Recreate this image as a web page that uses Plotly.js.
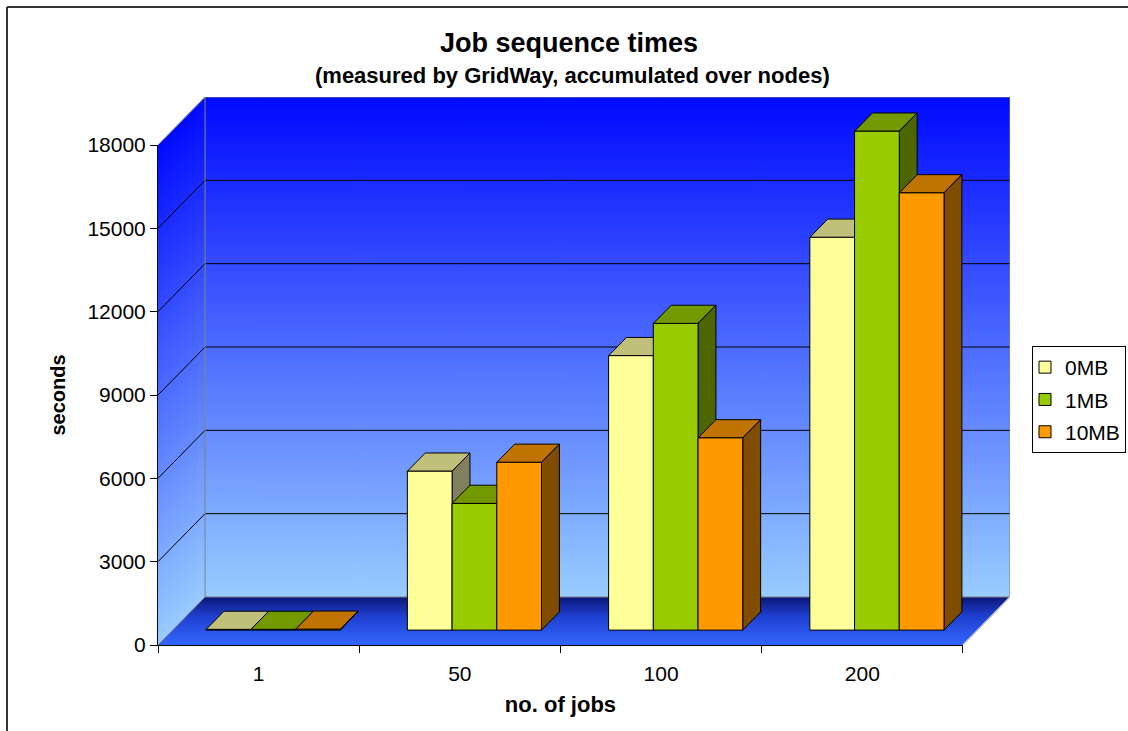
<!DOCTYPE html>
<html>
<head>
<meta charset="utf-8">
<script src="https://cdn.plot.ly/plotly-3.0.1.min.js"></script>
<style>
  html, body { margin: 0; padding: 0; background: #ffffff; }
  #chart { width: 1128px; height: 731px; }
</style>
</head>
<body>
<div id="chart"></div>
<script>
// ---- data ----
const categories = ['1', '50', '100', '200'];
const seriesNames = ['0MB', '1MB', '10MB'];
const values0MB = [25, 5720, 9880, 14140];
const values1MB = [25, 4560, 11040, 17960];
const values10MB = [30, 6040, 6920, 15740];
const yTicks = [0, 3000, 6000, 9000, 12000, 15000, 18000];

// ---- styling ----
const frontColors = ['#FFFF99', '#99CC00', '#FF9900'];
const topColors   = ['#C0C07A', '#739900', '#C07300'];
const sideColors  = ['#80805F', '#4D6600', '#804D00'];
const WALL_STOPS  = [[0, 'rgb(0,10,255)'], [1, 'rgb(153,204,255)']];
const FLOOR_STOPS = [[0, '#0B1678'], [0.4, '#1F3FD0'], [1, '#3366FF']];
const FONT = 'Liberation Sans, Arial, Helvetica, sans-serif';

// ---- 3-D box geometry, in data units ----
const N = categories.length;
const Y_MAX = 18000;
const DX = 0.2338;          // depth offset along the category axis
const DY = 1728;            // depth offset along the value axis
const W_TOT = N + DX;
const H_TOT = Y_MAX + DY;
const F0 = 0.31, F1 = 0.69; // front / back plane of the bars inside the box depth
const BAR_W = 1 / 4.5;      // three bars + gap of 1.5 bar widths per category
const GAP = 0.75 / 4.5;
const BASE = F0 * DY;
const d = (F1 - F0) * DX;
const e = (F1 - F0) * DY;

const M = { l: 158, r: 118, t: 97, b: 86 };
const plotW = 1128 - M.l - M.r, plotH = 731 - M.t - M.b;
const pX = px => (px - M.l) / plotW;
const pY = py => (731 - M.b - py) / plotH;

function addStops(grad, stops) { stops.forEach(s => grad.addColorStop(s[0], s[1])); }

// back wall: plain vertical gradient
function backWallImage() {
  const c = document.createElement('canvas');
  c.width = 8; c.height = 512;
  const g = c.getContext('2d');
  const grad = g.createLinearGradient(0, 0, 0, c.height);
  addStops(grad, WALL_STOPS);
  g.fillStyle = grad;
  g.fillRect(0, 0, c.width, c.height);
  return c.toDataURL();
}

// left side wall: the same gradient, sheared along the depth direction
function leftWallImage() {
  const W = 48, H = 600;
  const c = document.createElement('canvas');
  c.width = W; c.height = H;
  const g = c.getContext('2d');
  for (let col = 0; col < W; col++) {
    const t = (col + 0.5) / W;
    const yTop = H * (1 - (Y_MAX + t * DY) / H_TOT);
    const yBot = H * (1 - (t * DY) / H_TOT);
    const grad = g.createLinearGradient(0, yTop, 0, yBot);
    addStops(grad, WALL_STOPS);
    g.fillStyle = grad;
    g.fillRect(col, yTop, 1, yBot - yTop);
  }
  return c.toDataURL();
}

// floor plate: parallelogram with a back-to-front gradient
function floorImage() {
  const W = 852, H = 48;
  const c = document.createElement('canvas');
  c.width = W; c.height = H;
  const g = c.getContext('2d');
  const cx = x => x / W_TOT * W;
  const cy = y => H * (1 - y / DY);
  const grad = g.createLinearGradient(0, 0, 0, H);
  addStops(grad, FLOOR_STOPS);
  g.fillStyle = grad;
  g.beginPath();
  g.moveTo(cx(0), cy(0));
  g.lineTo(cx(N), cy(0));
  g.lineTo(cx(N + DX), cy(DY));
  g.lineTo(cx(DX), cy(DY));
  g.closePath();
  g.fill();
  return c.toDataURL();
}

const traces = [];

// keeps the front axes subplot alive
traces.push({ type: 'scatter', x: [], y: [], xaxis: 'x', yaxis: 'y', showlegend: false, hoverinfo: 'skip' });

// gridlines on the left wall and back wall
const gx = [], gy = [];
yTicks.filter(v => v > 0 && v < Y_MAX).forEach(v => {
  gx.push(0, DX, N + DX, null);
  gy.push(v, v + DY, v + DY, null);
});
traces.push({
  type: 'scatter', mode: 'lines', x: gx, y: gy, xaxis: 'x2', yaxis: 'y2',
  line: { color: '#000000', width: 1 }, showlegend: false, hoverinfo: 'skip'
});

// wall edges
traces.push({
  type: 'scatter', mode: 'lines', xaxis: 'x2', yaxis: 'y2',
  x: [0, DX, N + DX, N + DX, DX, DX, null, 0, DX],
  y: [Y_MAX, H_TOT, H_TOT, DY, DY, H_TOT, null, 0, DY],
  line: { color: '#808080', width: 1 }, showlegend: false, hoverinfo: 'skip'
});
traces.push({
  type: 'scatter', mode: 'lines', xaxis: 'x2', yaxis: 'y2',
  x: [N, N + DX], y: [0, DY],
  line: { color: '#C8C8C8', width: 1.5 }, showlegend: false, hoverinfo: 'skip'
});

// top and side faces of the bars, painted left to right
const seriesValues = [values0MB, values1MB, values10MB];
const barLeft = (i, j) => i + GAP + j * BAR_W + F0 * DX;

seriesValues.forEach((vals, j) => {
  const tx = [], ty = [], sx = [], sy = [];
  vals.forEach((v, i) => {
    const xl = barLeft(i, j), xr = xl + BAR_W, top = BASE + v;
    tx.push(xl, xr, xr + d, xl + d, xl, null);
    ty.push(top, top, top + e, top + e, top, null);
    sx.push(xr, xr + d, xr + d, xr, xr, null);
    sy.push(BASE, BASE + e, top + e, top, BASE, null);
  });
  traces.push({
    type: 'scatter', mode: 'lines', x: tx, y: ty, xaxis: 'x2', yaxis: 'y2',
    fill: 'toself', fillcolor: topColors[j], line: { color: '#000000', width: 1 },
    showlegend: false, hoverinfo: 'skip'
  });
  traces.push({
    type: 'scatter', mode: 'lines', x: sx, y: sy, xaxis: 'x2', yaxis: 'y2',
    fill: 'toself', fillcolor: sideColors[j], line: { color: '#000000', width: 1 },
    showlegend: false, hoverinfo: 'skip'
  });
});

// front faces of the bars
seriesValues.forEach((vals, j) => {
  traces.push({
    type: 'bar', name: seriesNames[j], legendgroup: seriesNames[j], xaxis: 'x3', yaxis: 'y3',
    x: vals.map((v, i) => barLeft(i, j) + BAR_W / 2),
    y: vals, base: BASE, width: BAR_W,
    marker: { color: frontColors[j], line: { color: '#000000', width: 1 } },
    hoverinfo: 'skip'
  });
});

const hidden = { visible: false, fixedrange: true };

const layout = {
  width: 1128, height: 731,
  margin: { l: M.l, r: M.r, t: M.t, b: M.b, pad: 0, autoexpand: false },
  paper_bgcolor: '#ffffff', plot_bgcolor: 'rgba(0,0,0,0)',
  font: { family: FONT, color: '#000000', size: 21 },
  barmode: 'overlay',
  showlegend: true,
  title: {
    text: '<b>Job sequence times</b>', font: { family: FONT, size: 27, color: '#000000' },
    xref: 'container', x: 569 / 1128, xanchor: 'center',
    yref: 'container', y: 1 - 43 / 731, yanchor: 'middle'
  },
  annotations: [{
    text: '<b>(measured by GridWay, accumulated over nodes)</b>',
    xref: 'paper', yref: 'paper', x: pX(572), y: pY(75),
    xanchor: 'center', yanchor: 'middle', showarrow: false,
    font: { family: FONT, size: 22, color: '#000000' }
  }],
  xaxis: {
    domain: [0, N / W_TOT], range: [0, N], anchor: 'y', fixedrange: true,
    tickmode: 'array', tickvals: categories.map((c, i) => i + 0.5), ticktext: categories,
    ticks: '', ticklabelstandoff: 10,
    minor: { tickmode: 'array', tickvals: categories.map((c, i) => i).concat([N]), ticks: 'outside', ticklen: 7, tickcolor: '#000000', tickwidth: 1 },
    showline: true, linecolor: '#000000', linewidth: 1,
    showgrid: false, zeroline: false,
    title: { text: '<b>no. of jobs</b>', standoff: 12, font: { family: FONT, size: 22 } }
  },
  yaxis: {
    domain: [0, Y_MAX / H_TOT], range: [0, Y_MAX], anchor: 'x', fixedrange: true,
    tickmode: 'array', tickvals: yTicks, ticktext: yTicks.map(String),
    ticks: 'outside', ticklen: 7, tickcolor: '#000000', tickwidth: 1,
    showline: true, linecolor: '#000000', linewidth: 1,
    showgrid: false, zeroline: false,
    title: { text: '<b>seconds</b>', standoff: 16, font: { family: FONT, size: 20 } }
  },
  xaxis2: Object.assign({ domain: [0, 1], range: [0, W_TOT], anchor: 'y2' }, hidden),
  yaxis2: Object.assign({ domain: [0, 1], range: [0, H_TOT], anchor: 'x2' }, hidden),
  xaxis3: Object.assign({ overlaying: 'x2', range: [0, W_TOT], anchor: 'y3' }, hidden),
  yaxis3: Object.assign({ overlaying: 'y2', range: [0, H_TOT], anchor: 'x3' }, hidden),
  legend: {
    x: pX(1032), y: pY(346), xanchor: 'left', yanchor: 'top',
    bgcolor: '#ffffff', bordercolor: '#000000', borderwidth: 1,
    font: { family: FONT, size: 21, color: '#000000' },
    traceorder: 'grouped', tracegroupgap: 2, indentation: -8
  },
  images: [
    { source: backWallImage(), xref: 'x2', yref: 'y2', x: DX, y: H_TOT, sizex: N, sizey: Y_MAX,
      xanchor: 'left', yanchor: 'top', sizing: 'stretch', layer: 'below' },
    { source: leftWallImage(), xref: 'x2', yref: 'y2', x: 0, y: H_TOT, sizex: DX, sizey: H_TOT,
      xanchor: 'left', yanchor: 'top', sizing: 'stretch', layer: 'below' },
    { source: floorImage(), xref: 'x2', yref: 'y2', x: 0, y: DY, sizex: W_TOT, sizey: DY,
      xanchor: 'left', yanchor: 'top', sizing: 'stretch', layer: 'below' }
  ],
  shapes: [
    // outer frame, top and left edges
    { type: 'line', xref: 'paper', yref: 'paper', x0: pX(7), x1: pX(1140), y0: pY(7), y1: pY(7),
      line: { color: '#333333', width: 2 } },
    { type: 'line', xref: 'paper', yref: 'paper', x0: pX(7), x1: pX(7), y0: pY(7), y1: pY(740),
      line: { color: '#333333', width: 2 } }
  ]
};

Plotly.newPlot('chart', traces, layout, { staticPlot: true, displayModeBar: false });
</script>
</body>
</html>
